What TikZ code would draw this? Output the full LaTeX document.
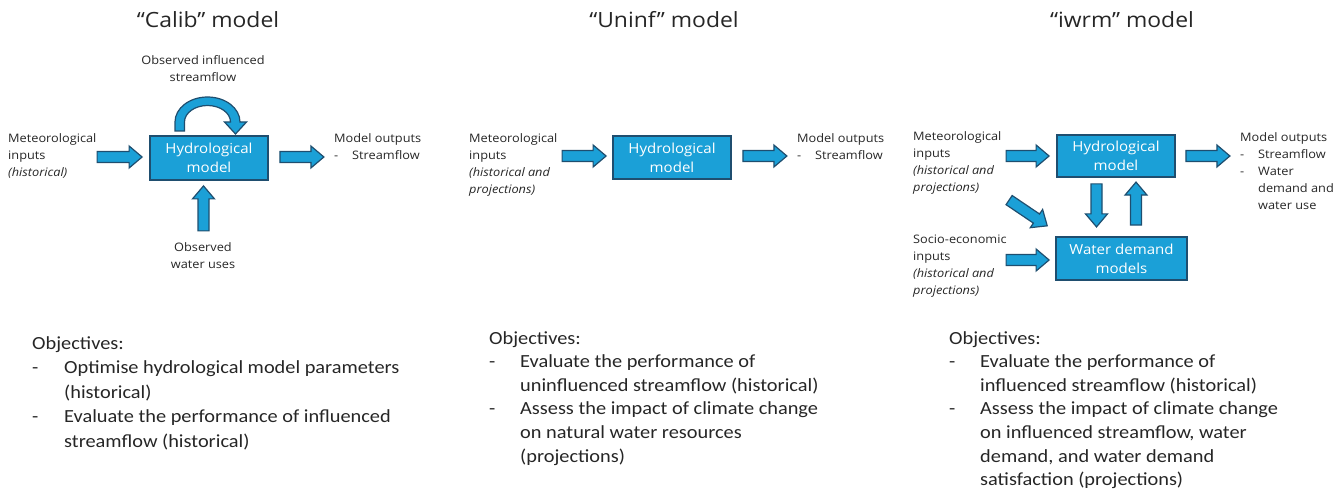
\documentclass[tikz,border=0pt]{standalone}
\usepackage{fontspec}
\setmainfont{Open Sans}[FakeStretch=1.09]
\newfontfamily\objfont{Carlito}[FakeStretch=1.1]
\usetikzlibrary{calc}

\definecolor{boxblue}{HTML}{1BA0D7}
\definecolor{edgeblue}{HTML}{1F4E6F}
\definecolor{inkgray}{HTML}{262626}

\tikzset{
  modelbox/.style={draw=edgeblue, line width=1.8pt, fill=boxblue, text=white,
    align=center, inner sep=0pt, font=\fontsize{13.8}{19}\selectfont},
  lbl/.style={anchor=north west, align=left, inner sep=0pt, text=inkgray,
    font=\fontsize{11.7}{17}\selectfont},
  clbl/.style={lbl, anchor=north, align=center},
  heading/.style={inner sep=0pt, text=inkgray, font=\fontsize{21}{24}\selectfont},
  objective/.style={anchor=north west, align=left, inner sep=0pt, text=inkgray},
  blockarrow/.style={draw=edgeblue, line width=1.2pt, fill=boxblue, line join=miter},
  barrow/.pic={\path[blockarrow] (0,-5.5) -- ({#1-13},-5.5) -- ({#1-13},-11)
    -- (#1,0) -- ({#1-13},11) -- ({#1-13},5.5) -- (0,5.5) -- cycle;}
}
\newcommand{\dashitem}[1]{\makebox[#1][l]{-}}

\begin{document}
\begin{tikzpicture}[x=1pt, y=-1pt]
\useasboundingbox (0,0) rectangle (1344,494);

% ---------- headings ----------
\node[heading] (tA) at (208,20) {“Calib” model};
\node[heading] (tB) at (664,20) {“Uninf” model};
\node[heading] (tC) at (1122,20) {“iwrm” model};

% ---------- Calib ----------
\node[modelbox, minimum width=118pt, minimum height=44pt] (hydA) at (209,158) {Hydrological\\model};
\node[lbl] (metA) at (8,133.5) {Meteorological\\inputs\\\textit{(historical)}};
\node[lbl] (outA) at (334,133.5) {Model outputs\\\dashitem{18pt}Streamflow};
\node[clbl] (obsQ) at (203,55.5) {Observed influenced\\streamflow};
\node[clbl] (obsW) at (203,242.5) {Observed\\water uses};

\pic at ($(hydA.west)+(-52,-1)$) {barrow=45};
\pic at ($(hydA.east)+(11,-1)$) {barrow=44};
\pic[rotate=90] at ($(hydA.south)+(-5.5,50)$) {barrow=45};

% curved feedback arrow over the box
\path[blockarrow] (175,131) -- (175,122)
  arc[start angle=180, end angle=360, x radius=32.5, y radius=25]
  -- (246.5,122) -- (235.5,134) -- (224.5,122) -- (230.5,122)
  arc[start angle=360, end angle=180, x radius=23, y radius=16.5]
  -- (184.5,131) -- cycle;

% objectives
\node[objective, font=\objfont\fontsize{18.5}{24.4}\selectfont] (objA) at (32,336.5) {%
Objectives:\\
\dashitem{32pt}Optimise hydrological model parameters\\
\hspace*{32pt}(historical)\\
\dashitem{32pt}Evaluate the performance of influenced\\
\hspace*{32pt}streamflow (historical)};

% ---------- Uninf ----------
\node[modelbox, minimum width=118pt, minimum height=43pt] (hydB) at (672,157.5) {Hydrological\\model};
\node[lbl] (metB) at (469,133.5) {Meteorological\\inputs\\\textit{(historical and}\\\textit{projections)}};
\node[lbl] (outB) at (797,133.5) {Model outputs\\\dashitem{18pt}Streamflow};

\pic at ($(hydB.west)+(-50,-1.5)$) {barrow=44};
\pic at ($(hydB.east)+(11,-1.5)$) {barrow=44};

\node[objective, font=\objfont\fontsize{18.5}{23.6}\selectfont] (objB) at (489,331) {%
Objectives:\\
\dashitem{31pt}Evaluate the performance of\\
\hspace*{31pt}uninfluenced streamflow (historical)\\
\dashitem{31pt}Assess the impact of climate change\\
\hspace*{31pt}on natural water resources\\
\hspace*{31pt}(projections)};

% ---------- iwrm ----------
\node[modelbox, minimum width=118pt, minimum height=42pt] (hydC) at (1116,156) {Hydrological\\model};
\node[modelbox, minimum width=131pt, minimum height=43pt] (wdm) at (1121.5,258.5) {Water demand\\models};
\node[lbl] (metC) at (913,131.5) {Meteorological\\inputs\\\textit{(historical and}\\\textit{projections)}};
\node[lbl] (socC) at (913,234.5) {Socio-economic\\inputs\\\textit{(historical and}\\\textit{projections)}};
\node[lbl] (outC) at (1240,132.5) {Model outputs\\\dashitem{18pt}Streamflow\\\dashitem{18pt}Water\\\hspace*{18pt}demand and\\\hspace*{18pt}water use};

\pic at ($(hydC.west)+(-50,0)$) {barrow=43};
\pic at ($(hydC.east)+(10,0)$) {barrow=44};
\pic at ($(wdm.west)+(-49,1.5)$) {barrow=43};
\pic[rotate=-90] at ($(hydC.south)+(-19.5,6)$) {barrow=43};
\pic[rotate=90] at ($(wdm.north)+(14.5,-11)$) {barrow=43};
\pic[rotate=-34] at ($(wdm.north west)+(-46,-36)$) {barrow=46};

\node[objective, font=\objfont\fontsize{18.5}{23.6}\selectfont] (objC) at (949,331) {%
Objectives:\\
\dashitem{31pt}Evaluate the performance of\\
\hspace*{31pt}influenced streamflow (historical)\\
\dashitem{31pt}Assess the impact of climate change\\
\hspace*{31pt}on influenced streamflow, water\\
\hspace*{31pt}demand, and water demand\\
\hspace*{31pt}satisfaction (projections)};
\end{tikzpicture}
\end{document}
